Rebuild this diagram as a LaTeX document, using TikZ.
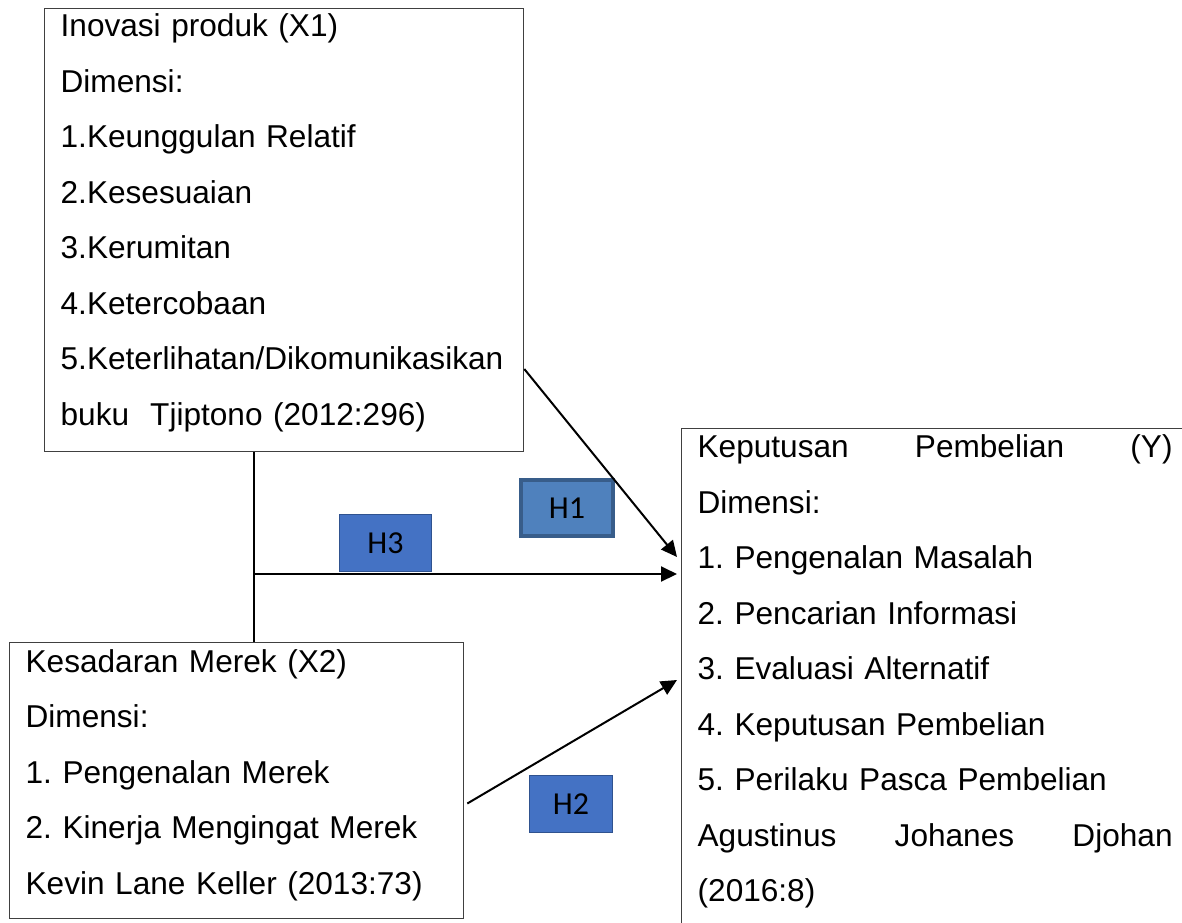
\documentclass[tikz,border=0pt]{standalone}
\usepackage{fontspec}
\setmainfont{Liberation Sans}
\newfontfamily\hfont{Carlito}
\usetikzlibrary{arrows.meta}
\definecolor{hfill}{HTML}{4472C4}
\definecolor{hline}{HTML}{2F528F}
\definecolor{honefill}{HTML}{4F81BD}
\definecolor{honeline}{HTML}{385D8A}
\frenchspacing

\begin{document}
\begin{tikzpicture}[x=1pt, y=-1pt,
    varbox/.style={draw=black!75, line width=1.3pt, rectangle, anchor=north west, align=left,
      inner xsep=16pt, inner ysep=0pt, font=\fontsize{31.6}{55.5}\selectfont},
    hbox/.style={draw=hline, fill=hfill, line width=1.5pt, minimum height=57pt, inner sep=0pt,
      font=\hfont\fontsize{32}{36}\selectfont},
    link/.style={line width=2pt},
    arr/.style={link, -{Triangle[length=16pt, width=15pt]}}]
    \useasboundingbox (0,0) rectangle (1182,922);

    % nodes %
      \node[varbox, text width=447pt] (x1) at (44,8) {\rule{0pt}{28pt}Inovasi produk (X1)\\
        Dimensi:\\
        1.Keunggulan Relatif\\
        2.Kesesuaian\\
        3.Kerumitan\\
        4.Ketercobaan\\
        5.Keterlihatan/Dikomunikasikan\\
        buku\ \ Tjiptono (2012:296)\rule[-26.5pt]{0pt}{26.5pt}};
      \node[varbox, text width=422pt] (x2) at (9,641.5) {\rule{0pt}{30.2pt}Kesadaran Merek (X2)\\
        Dimensi:\\
        1. Pengenalan Merek\\
        2. Kinerja Mengingat Merek\\
        Kevin Lane Keller (2013:73)\rule[-24.3pt]{0pt}{24.3pt}};
      \node[varbox, text width=475pt] (y) at (681,428) {\rule{0pt}{29pt}\makebox[475pt][s]{Keputusan\hfill Pembelian\hfill (Y)}\\
        Dimensi:\\
        1. Pengenalan Masalah\\
        2. Pencarian Informasi\\
        3. Evaluasi Alternatif\\
        4. Keputusan Pembelian\\
        5. Perilaku Pasca Pembelian\\
        \makebox[475pt][s]{Agustinus\hfill Johanes\hfill Djohan}\\
        (2016:8)\rule[-30pt]{0pt}{30pt}};

      \node[hbox, minimum width=92pt] (h3) at (385.5,543) {H3};
      \node[hbox, draw=honeline, fill=honefill, line width=3.5pt, minimum width=92pt,
        minimum height=56pt] (h1) at (567,508) {H1};
      \node[hbox, minimum width=83pt] (h2) at (571,804) {H2};

      \coordinate (split) at (253.5,574);
      \coordinate (h1s) at ([yshift=-361pt]x1.north east);
      \coordinate (h1e) at ([xshift=-4pt, yshift=-129pt]y.north west);
      \coordinate (h2s) at ([xshift=3pt, yshift=-162pt]x2.north east);
      \coordinate (h2e) at ([xshift=-4pt, yshift=-252pt]y.north west);

      % edges %
      \draw[link] (split |- x1.south) -- (split |- x2.north);
      \draw[arr] (split) -- ([xshift=-4pt]split -| y.west);
      \draw[arr] (h1s) -- (h1e);
      \draw[arr] (h2s) -- (h2e);
\end{tikzpicture}
\end{document}
